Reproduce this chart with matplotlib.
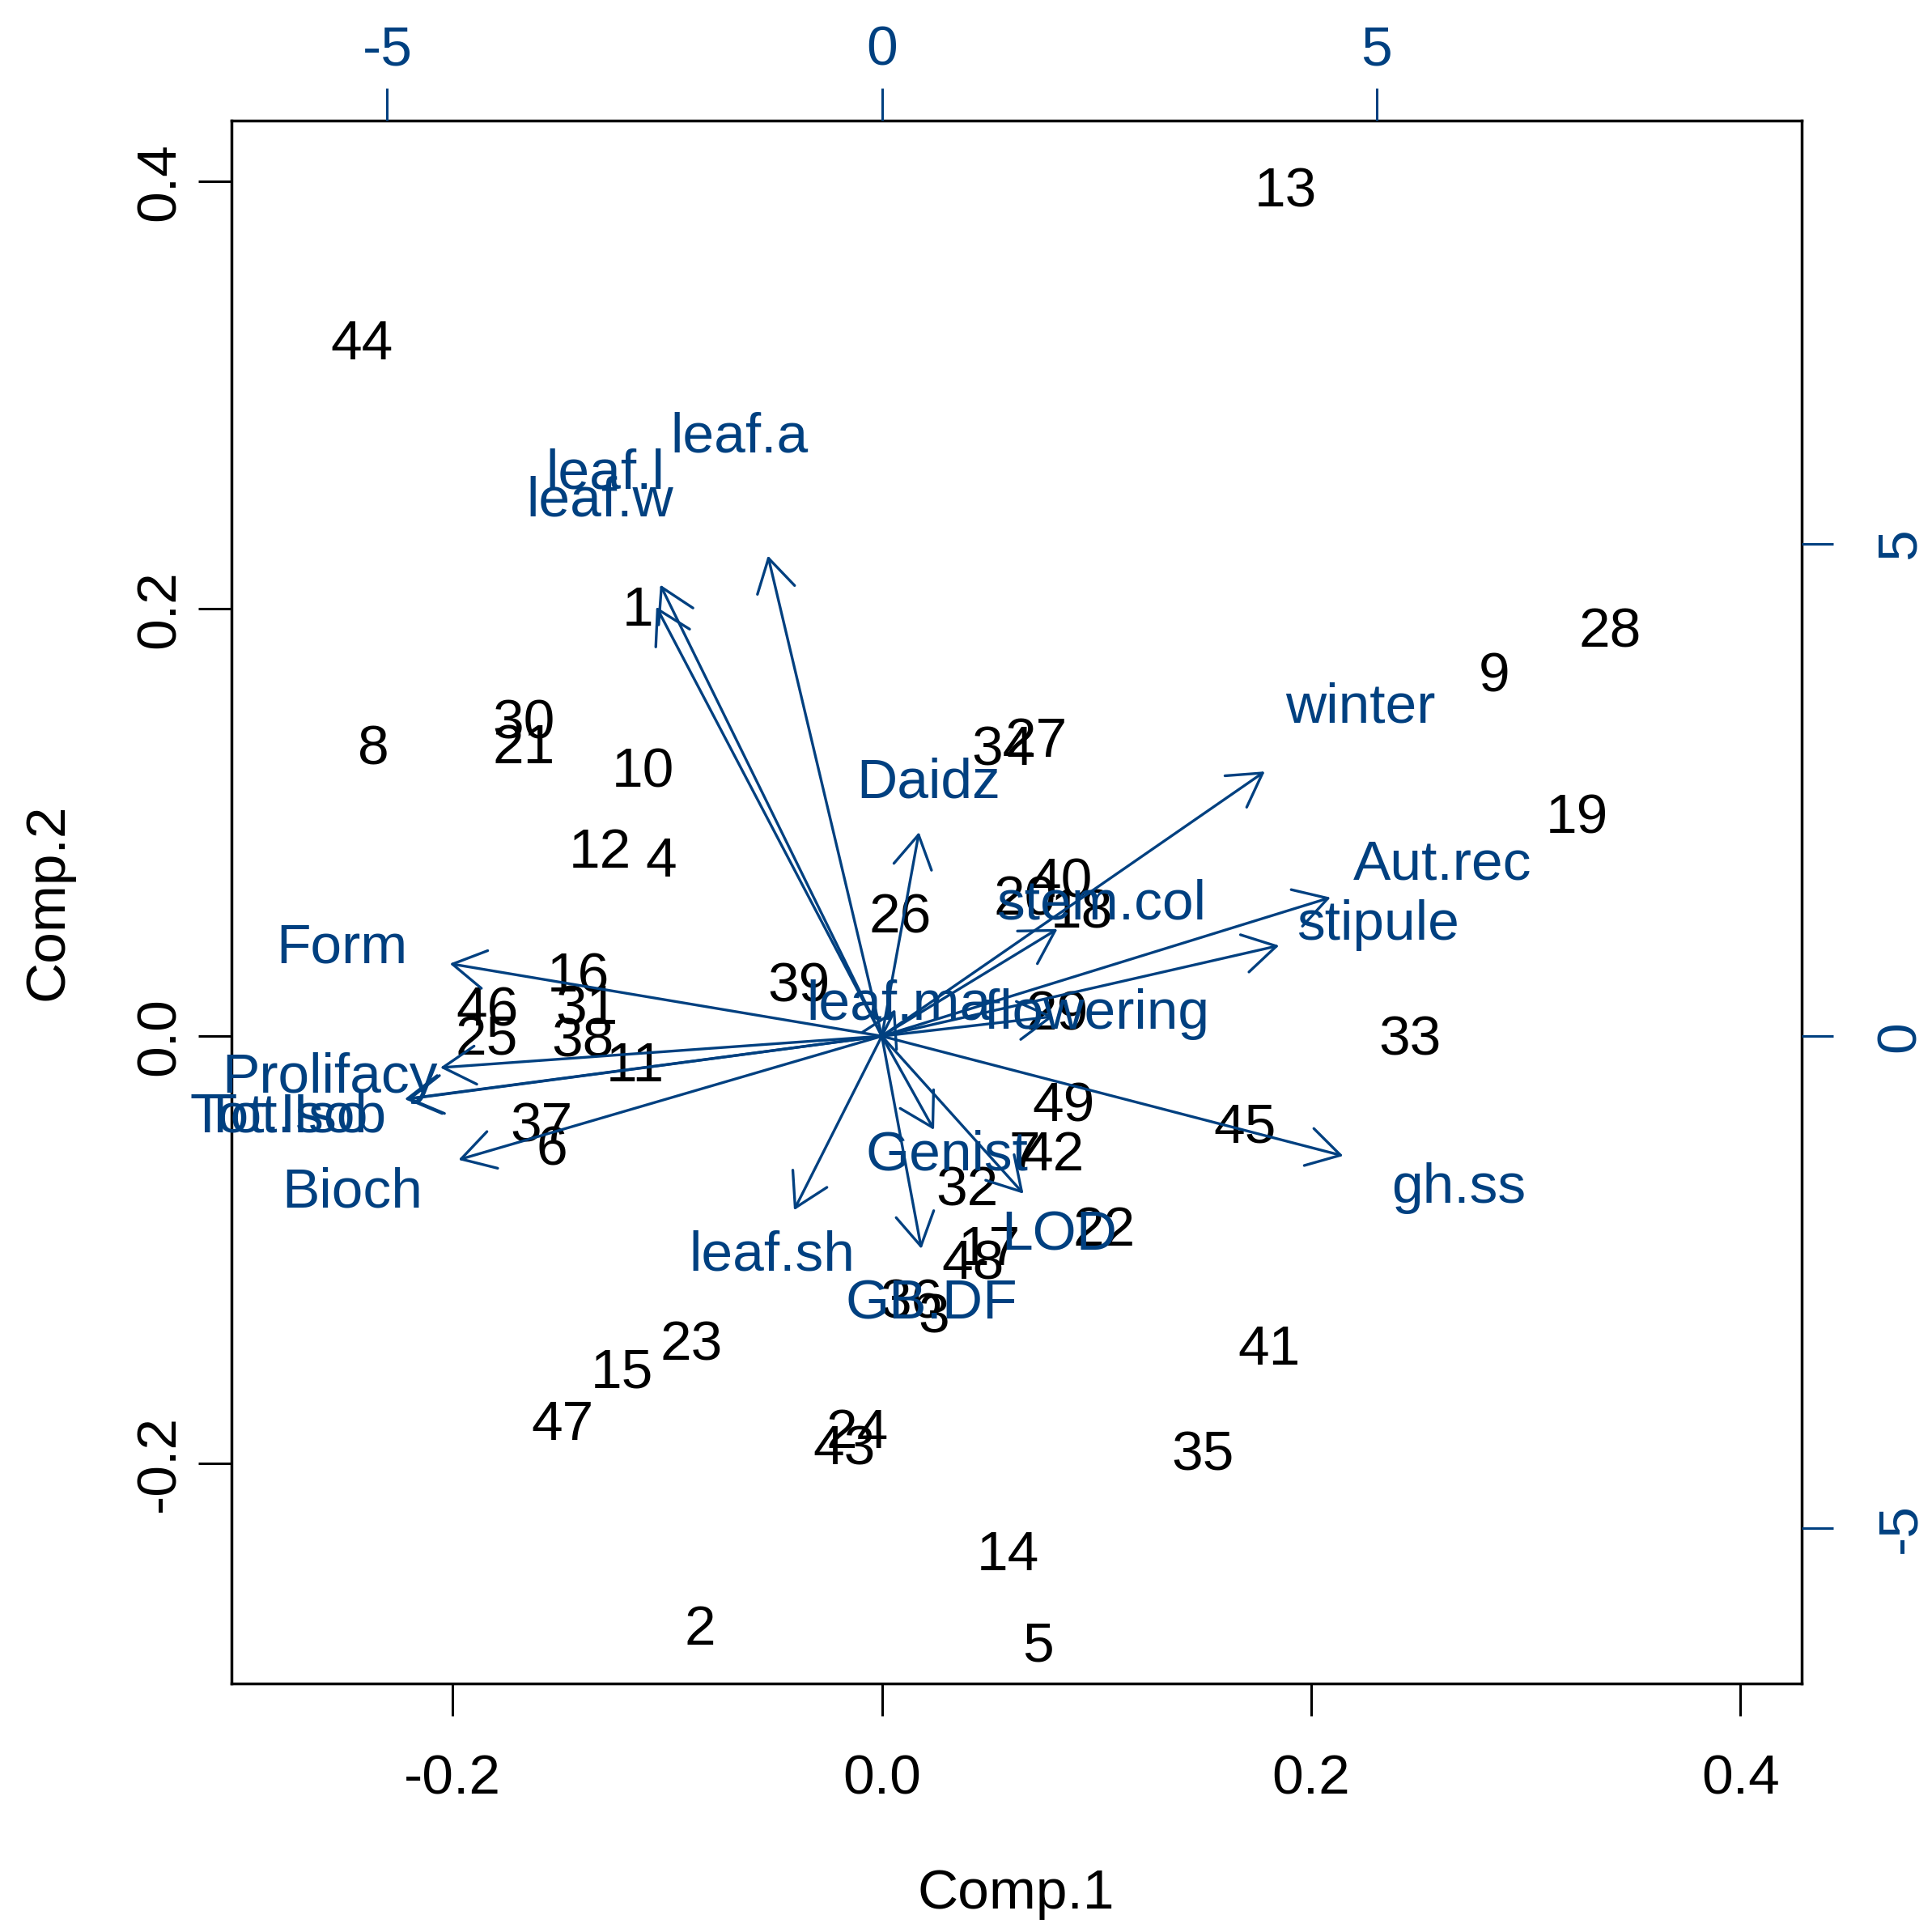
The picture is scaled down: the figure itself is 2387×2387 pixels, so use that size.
import numpy as np
import matplotlib.pyplot as plt
from matplotlib.patches import FancyArrowPatch
from matplotlib.transforms import offset_copy

plt.rcParams['font.family'] = ['Liberation Sans', 'DejaVu Sans']
plt.rcParams['axes.unicode_minus'] = False

# observation scores (Comp.1, Comp.2), labelled 1..49
obs = [str(i) for i in range(1, 50)]
comp1 = [-0.1135, -0.0848, 0.0241, -0.1029, 0.0728, -0.1538, 0.0665, -0.2368, 0.2851, -0.1112,
         -0.1150, -0.1312, 0.1882, 0.0588, -0.1210, -0.1414, 0.0502, 0.0931, 0.3239, 0.0667,
         -0.1670, 0.1037, -0.0886, -0.0113, -0.1840, 0.0087, 0.0720, 0.3394, 0.0818, -0.1670,
         -0.1376, 0.0396, 0.2459, 0.0562, 0.1497, 0.0136, -0.1584, -0.1395, -0.0385, 0.0837,
         0.1806, 0.0796, -0.0177, -0.2421, 0.1693, -0.1840, -0.1486, 0.0426, 0.0845]
comp2 = [0.2000, -0.2769, -0.1307, 0.0826, -0.2845, -0.0523, -0.0549, 0.1352, 0.1693, 0.1246,
         -0.0133, 0.0867, 0.3962, -0.2420, -0.1568, 0.0286, -0.0992, 0.0587, 0.1027, 0.0644,
         0.1356, -0.0902, -0.1436, -0.1848, -0.0008, 0.0561, 0.1386, 0.1898, 0.0106, 0.1470,
         0.0133, -0.0716, -0.0010, 0.1348, -0.1951, -0.1242, -0.0415, -0.0019, 0.0239, 0.0731,
         -0.1458, -0.0549, -0.1928, 0.3246, -0.0420, 0.0125, -0.1811, -0.1057, -0.0320]

# variable loadings (secondary scale)
variables = ['leaf.a', 'leaf.l', 'leaf.w', 'Daidz', 'winter', 'Aut.rec', 'stipule', 'stem.col',
             'flowering', 'leaf.ma', 'Form', 'Prolifacy', 'Tot.Iso', 'Tot.Isob', 'Bioch',
             'gh.ss', 'Genist', 'leaf.sh', 'LOD', 'GB.DF']
load1 = [-1.44, -2.80, -2.85, 0.47, 4.84, 5.67, 5.02, 2.22,
         2.17, 0.17, -5.46, -5.58, -6.03, -6.00, -5.35,
         5.83, 0.66, -1.11, 1.79, 0.50]
load2 = [6.10, 5.73, 5.45, 2.59, 3.36, 1.76, 1.15, 1.36,
         0.25, 0.34, 0.92, -0.40, -0.80, -0.80, -1.57,
         -1.52, -1.19, -2.21, -2.00, -2.70]

blue = '#004080'
fs = 50
lim = (-0.303, 0.4285)
ratio = 21.7
# baseline shift so the digits sit centred on their point
yshift = -0.36 * fs + 3

fig = plt.figure(figsize=(23.87, 23.87), dpi=100)
rect = [0.1198, 0.1286, 0.8127, 0.809]
ax = fig.add_axes(rect)
ax.set_xlim(lim)
ax.set_ylim(lim)
for s in ax.spines.values():
    s.set_linewidth(2.5)

tr = offset_copy(ax.transData, fig=fig, y=yshift, units='points')
for lab, x, y in zip(obs, comp1, comp2):
    ax.text(x, y, lab, transform=tr, ha='center', va='baseline', fontsize=fs, color='black')

ax.set_xticks([-0.2, 0.0, 0.2, 0.4])
ax.set_xticklabels(['-0.2', '0.0', '0.2', '0.4'])
ax.set_yticks([-0.2, 0.0, 0.2, 0.4])
ax.set_yticklabels(['-0.2', '0.0', '0.2', '0.4'])
ax.tick_params(axis='x', length=29, width=2.2, pad=33, labelsize=fs)
ax.tick_params(axis='y', length=29.5, width=2.2, pad=11, labelsize=fs, labelrotation=90)
for t in ax.get_yticklabels():
    t.set_va('center')

# second plot for the loadings
ax2 = fig.add_axes(rect, frameon=False)
ax2.set_xlim(lim[0] * ratio, lim[1] * ratio)
ax2.set_ylim(lim[0] * ratio, lim[1] * ratio)
ax2.xaxis.tick_top()
ax2.yaxis.tick_right()
ax2.set_xticks([-5, 0, 5])
ax2.set_xticklabels(['-5', '0', '5'])
ax2.set_yticks([-5, 0, 5])
ax2.set_yticklabels(['-5', '0', '5'])
ax2.tick_params(axis='x', length=29, width=2.2, pad=10, labelsize=fs, colors=blue)
ax2.tick_params(axis='y', length=28, width=2.2, pad=37, labelsize=fs, colors=blue, labelrotation=90)
for t in ax2.get_yticklabels():
    t.set_va('center')

tr2 = offset_copy(ax2.transData, fig=fig, y=yshift, units='points')
for lab, x, y in zip(variables, load1, load2):
    arr = FancyArrowPatch((0, 0), (0.8 * x, 0.8 * y),
                          arrowstyle='->,head_length=29,head_width=17',
                          mutation_scale=1, shrinkA=0, shrinkB=0,
                          color=blue, lw=2.4)
    ax2.add_patch(arr)
    ax2.text(x, y, lab, transform=tr2, ha='center', va='baseline', fontsize=fs, color=blue)

fig.text(0.526, 0.0121, 'Comp.1', ha='center', va='baseline', fontsize=fs)
fig.text(0.0323, 0.5331, 'Comp.2', rotation=90, rotation_mode='anchor',
         ha='center', va='baseline', fontsize=fs)

fig.savefig('out.png', dpi=100)
